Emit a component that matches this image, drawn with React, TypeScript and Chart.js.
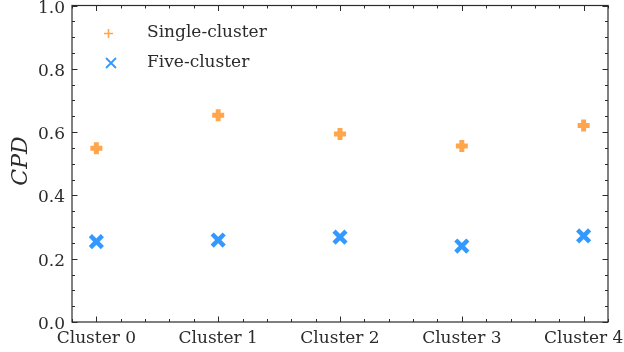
import React, { useEffect, useRef } from "react";
import { Chart, registerables } from "chart.js";

Chart.register(...registerables);

const categories = ["Cluster 0", "Cluster 1", "Cluster 2", "Cluster 3", "Cluster 4"];
const singleCluster = [0.549, 0.653, 0.594, 0.556, 0.621];
const fiveCluster = [0.254, 0.259, 0.268, 0.240, 0.272];
const yTicks = [0, 0.2, 0.4, 0.6, 0.8, 1.0];
const seriesNames = ["Single-cluster", "Five-cluster"];

const ORANGE = "#ffa64d";
const BLUE = "#3399ff";
const TEXT = "#2b2b2b";
const FONT = "'DejaVu Serif', serif";

const AREA = { left: 72, top: 5.5, right: 608, bottom: 322 };

const framePlugin = {
  id: "frameTicks",
  afterDraw(chart: any) {
    const ctx = chart.ctx;
    const { left, right, top, bottom } = chart.chartArea;
    const xs = chart.scales.x;
    const ys = chart.scales.y;
    ctx.save();
    ctx.strokeStyle = TEXT;
    ctx.lineWidth = 1.2;
    ctx.strokeRect(left, top, right - left, bottom - top);
    ctx.lineWidth = 1;
    const major = 5.5;
    const minor = 3;
    for (let k = -1; k <= 21; k++) {
      const v = k * 0.2;
      if (v < xs.min - 1e-9 || v > xs.max + 1e-9) continue;
      const px = Math.round(xs.getPixelForValue(v)) + 0.5;
      const isMajor = k % 5 === 0;
      const len = isMajor ? major : minor;
      ctx.beginPath();
      ctx.moveTo(px, bottom);
      ctx.lineTo(px, bottom - len);
      ctx.moveTo(px, top);
      ctx.lineTo(px, top + len);
      ctx.stroke();
    }
    for (let k = 0; k <= 20; k++) {
      const v = k * 0.05;
      const py = Math.round(ys.getPixelForValue(v)) + 0.5;
      const isMajor = k % 4 === 0;
      const len = isMajor ? major : minor;
      ctx.beginPath();
      ctx.moveTo(left, py);
      ctx.lineTo(left + len, py);
      ctx.moveTo(right, py);
      ctx.lineTo(right - len, py);
      ctx.stroke();
    }
    ctx.fillStyle = TEXT;
    ctx.font = `17px ${FONT}`;
    ctx.textBaseline = "alphabetic";
    ctx.textAlign = "right";
    yTicks.forEach((v) => {
      ctx.fillText(v.toFixed(1), left - 7, ys.getPixelForValue(v) + 7);
    });
    ctx.textAlign = "center";
    categories.forEach((c, i) => {
      ctx.fillText(c, xs.getPixelForValue(i), bottom + 21);
    });
    ctx.font = `italic 22px ${FONT}`;
    ctx.textAlign = "center";
    ctx.textBaseline = "middle";
    ctx.translate(21, 161);
    ctx.rotate(-Math.PI / 2);
    ctx.fillText("CPD", 0, 0);
    ctx.restore();

    ctx.save();
    ctx.lineWidth = 1.6;
    ctx.strokeStyle = ORANGE;
    ctx.beginPath();
    ctx.moveTo(104, 33.5);
    ctx.lineTo(113, 33.5);
    ctx.moveTo(108.5, 29);
    ctx.lineTo(108.5, 38);
    ctx.stroke();
    ctx.strokeStyle = BLUE;
    ctx.lineWidth = 1.8;
    ctx.beginPath();
    ctx.moveTo(106, 58);
    ctx.lineTo(116, 68);
    ctx.moveTo(116, 58);
    ctx.lineTo(106, 68);
    ctx.stroke();
    ctx.fillStyle = TEXT;
    ctx.font = `17px ${FONT}`;
    ctx.textAlign = "left";
    ctx.textBaseline = "middle";
    ctx.fillText(seriesNames[0], 147, 33);
    ctx.fillText(seriesNames[1], 147, 63);
    ctx.restore();
  },
};

export default function App() {
  const ref = useRef<HTMLCanvasElement>(null);
  useEffect(() => {
    if (!ref.current) return;
    const pad = { left: AREA.left, right: 624 - AREA.right, top: AREA.top, bottom: 352 - AREA.bottom };
    const chart = new Chart(ref.current, {
      type: "scatter",
      data: {
        datasets: [
          {
            label: seriesNames[0],
            data: singleCluster.map((v, i) => ({ x: i, y: v })),
            pointStyle: "cross",
            radius: 6,
            borderWidth: 5,
            borderColor: ORANGE,
            backgroundColor: ORANGE,
          },
          {
            label: seriesNames[1],
            data: fiveCluster.map((v, i) => ({ x: i, y: v })),
            pointStyle: "crossRot",
            radius: 8.5,
            borderWidth: 4.5,
            borderColor: BLUE,
            backgroundColor: BLUE,
          },
        ],
      },
      options: {
        responsive: false,
        animation: false,
        events: [],
        layout: { autoPadding: false, padding: pad },
        plugins: {
          legend: { display: false },
          title: { display: false },
          tooltip: { enabled: false },
        },
        scales: {
          x: { type: "linear", min: -0.2, max: 4.2, display: false },
          y: { type: "linear", min: 0, max: 1, display: false },
        },
      },
      plugins: [framePlugin],
    } as any);
    return () => chart.destroy();
  }, []);
  return (
    <div style={{ position: "absolute", left: 0, top: 0, width: 624, height: 352, background: "#fff" }}>
      <canvas ref={ref} width={624} height={352} style={{ display: "block" }} />
    </div>
  );
}
